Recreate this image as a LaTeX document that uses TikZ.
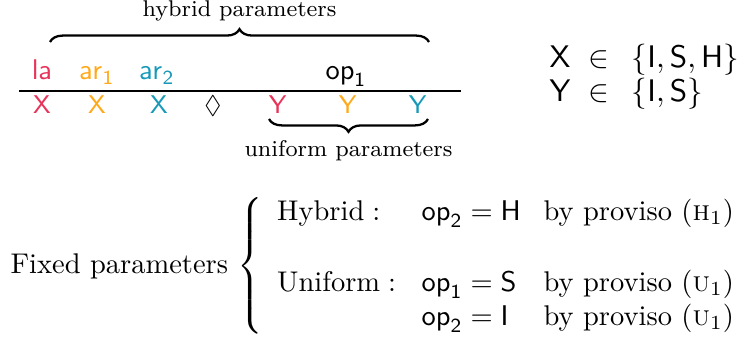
\documentclass[tikz,border=0pt]{standalone}
\usepackage{amsmath}
\usepackage{amssymb}
\usepackage{xcolor}
\usepackage{tikz}
\usetikzlibrary{decorations.pathreplacing,positioning}
\definecolor{pred}{HTML}{E8335A}
\definecolor{porange}{HTML}{FFA91A}
\definecolor{pteal}{HTML}{1899B8}
\newcommand{\sfpar}[2]{\mathsf{#1}_{\mathsf{#2}}}
\tikzset{
  parname/.style={font=\normalsize, anchor=base, inner sep=0pt},
  parval/.style={font=\small, anchor=base, inner sep=0pt},
  groupbrace/.style={decorate, decoration={brace, amplitude=4.5pt}, thick},
  bracenote/.style={font=\footnotesize, inner sep=1pt},
  rule/.style={draw=black, thick}
}

\begin{document}
\begin{tikzpicture}[x=0.351pt, y=0.351pt]
                \useasboundingbox (0,0) rectangle (746,-337);

                % parameter names above the rule
                \node[parname, text=pred] (la) at (42,-80) {$\mathsf{la}$};
                \node[parname, text=porange] (arone) at (97,-80) {$\sfpar{ar}{1}$};
                \node[parname, text=pteal] (artwo) at (157,-80) {$\sfpar{ar}{2}$};
                \node[parname] (opone) at (346,-80) {$\sfpar{op}{1}$};

                \coordinate (rl) at (19,-91);
                \coordinate (rr) at (461,-91);
                \draw[rule] (rl) -- (rr);

                % values below the rule
                \node[parval, text=pred] (xa) at (42,-114) {$\mathsf{X}$};
                \node[parval, text=porange] (xb) at (97,-114) {$\mathsf{X}$};
                \node[parval, text=pteal] (xc) at (159,-114) {$\mathsf{X}$};
                \node[parval] (dia) at (213,-114) {$\Diamond$};
                \node[parval, text=pred] (ya) at (278,-114) {$\mathsf{Y}$};
                \node[parval, text=porange] (yb) at (348,-114) {$\mathsf{Y}$};
                \node[parval, text=pteal] (yc) at (418,-114) {$\mathsf{Y}$};

                % braces
                \coordinate (hl) at (50,-42);
                \coordinate (hr) at (429,-42);
                \draw[groupbrace] (hl) -- node[bracenote, above=6pt] (hyb) {hybrid parameters} (hr);
                \coordinate (ul) at (269,-119);
                \coordinate (ur) at (428,-119);
                \draw[groupbrace] (ur) -- node[bracenote, below=6pt] (uni) {uniform parameters} (ul);

                \node[anchor=west, inner sep=0pt, font=\fontsize{11}{12}\selectfont] (sets) at (549,-78)
                    {$\begin{array}{@{}l@{\hspace{6pt}}c@{\hspace{8pt}}l@{}}
                        \mathsf{X} & \in & \{\mathsf{I},\mathsf{S},\mathsf{H}\}\\
                        \mathsf{Y} & \in & \{\mathsf{I},\mathsf{S}\}
                    \end{array}$};

                \node[anchor=west, inner sep=0pt] (fixed) at (10,-266)
                    {Fixed parameters $\left\{\begin{array}{@{\hspace{5pt}}l@{\hspace{9pt}}l@{\hspace{8pt}}l@{}}
                        \text{Hybrid}: & \sfpar{op}{2}=\mathsf{H} & \text{by proviso (\textsc{h}$_1$)}\\[3ex]
                        \text{Uniform}: & \sfpar{op}{1}=\mathsf{S} & \text{by proviso (\textsc{u}$_1$)}\\
                         & \sfpar{op}{2}=\mathsf{I} & \text{by proviso (\textsc{u}$_1$)}
                    \end{array}\right.$};
            \end{tikzpicture}
\end{document}
